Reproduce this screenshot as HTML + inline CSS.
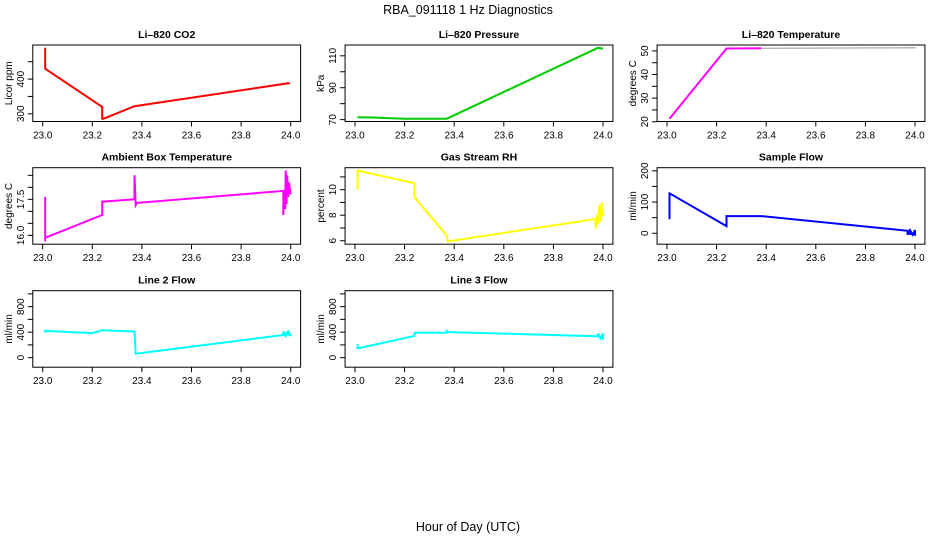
<!DOCTYPE html>
<html><head><meta charset="utf-8"><style>
html,body{margin:0;padding:0;background:#fff}
svg{display:block;font-family:"Liberation Sans",Arial,sans-serif}
</style></head><body>
<svg id="c" width="936" height="540" viewBox="0 0 936 540">
<text x="468" y="14" text-anchor="middle" font-size="12.5">RBA_091118  1 Hz Diagnostics</text>
<text x="468" y="531" text-anchor="middle" font-size="12.5">Hour of Day (UTC)</text>
</svg>
<script>
const xTicks = [23.0, 23.2, 23.4, 23.6, 23.8, 24.0];
const xTickLabels = ["23.0", "23.2", "23.4", "23.6", "23.8", "24.0"];

const co2X = [23.01, 23.01, 23.24, 23.24, 23.245, 23.37, 23.99, 23.985, 23.99];
const co2Y = [490, 430, 320, 286, 286, 322, 388, 390, 388];

const presX = [23.01, 23.07, 23.2, 23.37, 23.98, 24.0];
const presY = [71.5, 71.3, 70.6, 70.6, 115, 114.5];

const tempX = [23.01, 23.24, 23.38];
const tempY = [21.3, 51.0, 51.1];
const tempX2 = [23.38, 24.0, 24.0];
const tempY2 = [51.1, 51.3, 51.0];

const ambX = [23.01, 23.01, 23.01, 23.24, 23.24, 23.37, 23.37, 23.375, 23.38, 23.97, 23.97, 23.975, 23.978, 23.98, 23.983, 23.986, 23.99, 23.993, 24.0];
const ambY = [17.6, 15.75, 15.9, 16.85, 17.4, 17.5, 18.5, 17.26, 17.35, 17.85, 16.85, 17.9, 17.1, 18.7, 17.3, 18.5, 17.6, 18.2, 17.7];

const rhX = [23.01, 23.01, 23.24, 23.24, 23.37, 23.375, 23.97, 23.97, 23.975, 23.98, 23.985, 23.99, 23.995, 24.0];
const rhY = [10.0, 11.5, 10.5, 9.4, 6.4, 5.95, 7.7, 6.95, 8.0, 7.3, 8.8, 7.5, 9.0, 7.9];

const sampX = [23.01, 23.01, 23.24, 23.24, 23.38, 23.97, 23.97, 23.98, 23.99, 24.0, 24.0, 23.97];
const sampY = [45, 128, 23, 55, 55, 8, -5, 10, -5, 10, -5, 0];

const l2X = [23.01, 23.01, 23.01, 23.2, 23.24, 23.37, 23.375, 23.97, 23.97, 23.98, 23.99, 24.0, 23.98, 24.0];
const l2Y = [390, 440, 420, 385, 430, 410, 60, 355, 410, 340, 410, 340, 400, 360];

const l3X = [23.01, 23.01, 23.015, 23.24, 23.24, 23.37, 23.37, 23.38, 23.98, 23.98, 23.99, 24.0, 24.0, 23.98];
const l3Y = [210, 150, 150, 340, 390, 390, 420, 400, 335, 380, 300, 380, 300, 340];

const panels = [
 {name:'co2',col:0,row:0,title:'Li\u2013820 CO2',ylab:'Licor ppm',color:'#ff0000',w:2,ticks:[300,350,400,450],labs:{300:'300',400:'400'},series:[[co2X,co2Y]]},
 {name:'pressure',col:1,row:0,title:'Li\u2013820 Pressure',ylab:'kPa',color:'#00cc00',w:2,ticks:[70,80,90,100,110],labs:{70:'70',90:'90',110:'110'},series:[[presX,presY]]},
 {name:'temperature',col:2,row:0,title:'Li\u2013820 Temperature',ylab:'degrees C',color:'#ff00ff',w:2,ticks:[20,25,30,35,40,45,50],labs:{20:'20',30:'30',40:'40',50:'50'},series:[[tempX,tempY],[tempX2,tempY2,1,'#999999']]},
 {name:'ambient-temp',col:0,row:1,title:'Ambient Box Temperature',ylab:'degrees C',color:'#ff00ff',w:2,ticks:[16,16.5,17,17.5,18,18.5],labs:{16:'16.0',17.5:'17.5'},series:[[ambX,ambY]]},
 {name:'gas-rh',col:1,row:1,title:'Gas Stream RH',ylab:'percent',color:'#ffff00',w:2,ticks:[6,7,8,9,10,11],labs:{6:'6',8:'8',10:'10'},series:[[rhX,rhY]]},
 {name:'sample-flow',col:2,row:1,title:'Sample Flow',ylab:'ml/min',color:'#0000ff',w:2,ticks:[0,50,100,150,200],labs:{0:'0',100:'100',200:'200'},ylim:[-35,210],series:[[sampX,sampY]]},
 {name:'line2-flow',col:0,row:2,title:'Line 2 Flow',ylab:'ml/min',color:'#00ffff',w:2,ticks:[0,200,400,600,800,1000],labs:{0:'0',400:'400',800:'800'},ylim:[-150,1050],series:[[l2X,l2Y]]},
 {name:'line3-flow',col:1,row:2,title:'Line 3 Flow',ylab:'ml/min',color:'#00ffff',w:2,ticks:[0,200,400,600,800,1000],labs:{0:'0',400:'400',800:'800'},ylim:[-150,1050],series:[[l3X,l3Y]]}
];
const colX0=[42.7,355,667], unit=248, rowTop=[45,167.7,290.7], boxH=76.5;
const svg=document.getElementById('c'), NS='http://www.w3.org/2000/svg';
function mk(t,a,p){const e=document.createElementNS(NS,t);for(const k in a)e.setAttribute(k,a[k]);(p||svg).appendChild(e);return e;}
panels.forEach(p=>{
 const g=mk('g',{});
 
 
 const x0=colX0[p.col], top=rowTop[p.row], bot=top+boxH;
 const left=x0-0.04*unit, right=x0+1.04*unit;
 const sx=v=>x0+(v-23)*unit;
 let ymin,ymax;
 if(p.ylim){[ymin,ymax]=p.ylim;}else{
  let all=[];p.series.forEach(s=>all=all.concat(s[1]));
  const mn=Math.min(...all),mx=Math.max(...all),pad=(mx-mn)*0.04;ymin=mn-pad;ymax=mx+pad;}
 const sy=v=>bot-(v-ymin)/(ymax-ymin)*boxH;
 const t=mk('text',{x:(left+right)/2,y:top-7,'text-anchor':'middle','font-size':'10.5','font-weight':'bold'},g);t.textContent=p.title;
 
 
 p.series.forEach((s,i)=>{
  const pts=s[0].map((xv,j)=>sx(xv).toFixed(1)+','+sy(s[1][j]).toFixed(1)).join(' ');
  const l=mk('polyline',{points:pts,fill:'none',stroke:s[3]||p.color,'stroke-width':s[2]||p.w,'stroke-linejoin':'miter'},g);
  
  
 });
 const box=mk('rect',{x:left,y:top,width:right-left,height:boxH,fill:'none',stroke:'#000','stroke-width':1},g);
 
 
 xTicks.forEach((v,i)=>{
  mk('line',{x1:sx(v),x2:sx(v),y1:bot,y2:bot+5,stroke:'#000'},g);
  const tl=mk('text',{x:sx(v),y:bot+17,'text-anchor':'middle','font-size':'10'},g);tl.textContent=xTickLabels[i];
  
  
 });
 p.ticks.forEach(v=>{
  const y=sy(v);
  mk('line',{x1:left-5,x2:left,y1:y,y2:y,stroke:'#000'},g);
  if(p.labs[v]!==undefined){
   const lx=left-9;
   const tl=mk('text',{x:lx,y:y,'text-anchor':'middle','font-size':'10',transform:`rotate(-90 ${lx} ${y})`},g);tl.textContent=p.labs[v];
   
   
  }
 });
 const yx=left-21, yy=(top+bot)/2;
 const yl=mk('text',{x:yx,y:yy,'text-anchor':'middle','font-size':'10',transform:`rotate(-90 ${yx} ${yy})`},g);yl.textContent=p.ylab;
 
 
});
</script>
</body></html>
